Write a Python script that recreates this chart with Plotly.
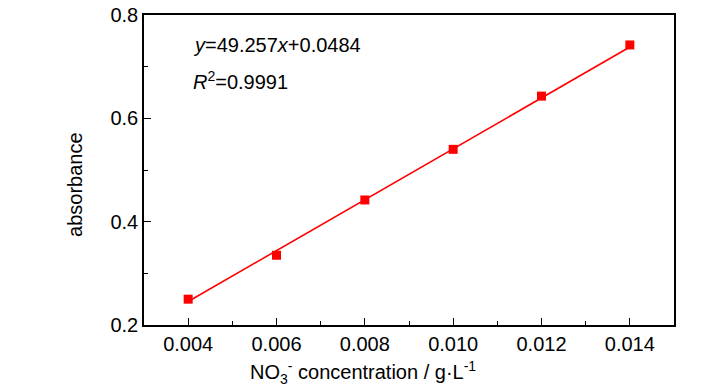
import plotly.graph_objects as go

conc = [0.004, 0.006, 0.008, 0.010, 0.012, 0.014]
absorb = [0.250, 0.335, 0.442, 0.540, 0.643, 0.742]
slope = 49.257
intercept = 0.0484
x_ticks = [0.004, 0.006, 0.008, 0.010, 0.012, 0.014]
x_labels = ["0.004", "0.006", "0.008", "0.010", "0.012", "0.014"]
y_ticks = [0.2, 0.4, 0.6, 0.8]
y_labels = ["0.2", "0.4", "0.6", "0.8"]

fit_x = [conc[0], conc[-1]]
fit_y = [slope * v + intercept for v in fit_x]

red = "#ff0000"
font = "Liberation Sans"

fig = go.Figure()
fig.add_trace(go.Scatter(x=fit_x, y=fit_y, mode="lines",
                         line=dict(color=red, width=1.6), showlegend=False))
fig.add_trace(go.Scatter(x=conc, y=absorb, mode="markers",
                         marker=dict(symbol="square", size=9, color=red), showlegend=False))

fig.add_annotation(xref="paper", yref="paper", x=0.088, y=0.903, xanchor="left", yanchor="middle",
                   showarrow=False, text="<i>y</i>=49.257<i>x</i>+0.0484",
                   font=dict(family=font, size=20, color="black"))
fig.add_annotation(xref="paper", yref="paper", x=0.088, y=0.79, xanchor="left", yanchor="middle",
                   showarrow=False, text="<i>R</i><sup>2</sup>=0.9991",
                   font=dict(family=font, size=20, color="black"))
# axis titles
fig.add_annotation(xref="paper", yref="paper", x=0.413, y=-0.152, xanchor="center", yanchor="middle",
                   showarrow=False, text="NO<sub>3</sub><sup>-</sup> concentration / g·L<sup>-1</sup>",
                   font=dict(family=font, size=20, color="black"))
fig.add_annotation(xref="paper", yref="paper", x=-0.13, y=0.452, xanchor="center", yanchor="middle",
                   showarrow=False, text="absorbance", textangle=-90,
                   font=dict(family=font, size=20, color="black"))

fig.update_layout(
    width=728, height=390,
    margin=dict(l=136, r=62, t=7, b=73),
    paper_bgcolor="white", plot_bgcolor="white",
    font=dict(family=font, size=20, color="black"),
)
fig.update_xaxes(range=[0.003, 0.015], tickvals=x_ticks, ticktext=x_labels, automargin=False,
                 ticklabeloverflow="allow",
                 showgrid=False, zeroline=False, showline=True, linecolor="black", linewidth=1.6,
                 mirror=True, ticks="inside", ticklen=7, tickwidth=1.4, tickcolor="black",
                 minor=dict(ticks="inside", ticklen=4, tickwidth=1.2, dtick=0.001, tick0=0.003, tickcolor="black"),
                 tickfont=dict(family=font, size=20))
fig.update_yaxes(range=[0.2, 0.8], tickvals=y_ticks, ticktext=y_labels, automargin=False,
                 ticklabeloverflow="allow",
                 showgrid=False, zeroline=False, showline=True, linecolor="black", linewidth=1.6,
                 mirror=True, ticks="inside", ticklen=7, tickwidth=1.4, tickcolor="black",
                 minor=dict(ticks="inside", ticklen=4, tickwidth=1.2, dtick=0.1, tick0=0.2, tickcolor="black"),
                 tickfont=dict(family=font, size=20))

fig.write_html("out.html")
